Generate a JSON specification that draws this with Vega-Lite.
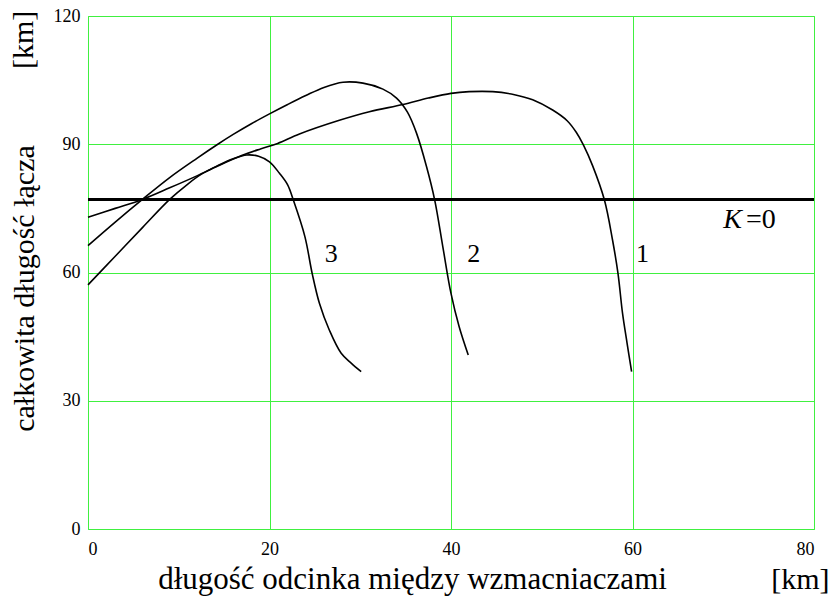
{
  "$schema": "https://vega.github.io/schema/vega-lite/v6.json",
  "width": 726,
  "height": 513,
  "autosize": {"type": "none"},
  "padding": {"left": 88, "top": 16, "right": 15, "bottom": 70},
  "background": "white",
  "config": {
    "view": {"stroke": "#40f040", "strokeWidth": 1},
    "font": "Liberation Serif",
    "text": {"font": "Liberation Serif"},
    "axis": {
      "grid": true,
      "gridColor": "#40f040",
      "gridOpacity": 1,
      "gridWidth": 1,
      "domain": false,
      "ticks": false,
      "labelFont": "Liberation Serif",
      "labelFontSize": 18,
      "labelColor": "black",
      "titleFont": "Liberation Serif",
      "titleFontWeight": "normal",
      "titleColor": "black"
    }
  },
  "datasets": {
    "curves": [
      {"curve": "1", "x": 0, "y": 72.9}, {"curve": "1", "x": 3, "y": 75.0}, {"curve": "1", "x": 6, "y": 77.1},
      {"curve": "1", "x": 9, "y": 79.8}, {"curve": "1", "x": 12, "y": 82.6}, {"curve": "1", "x": 14.3, "y": 84.9},
      {"curve": "1", "x": 17, "y": 87.4}, {"curve": "1", "x": 19, "y": 88.9}, {"curve": "1", "x": 20.9, "y": 90.2},
      {"curve": "1", "x": 23.3, "y": 92.4}, {"curve": "1", "x": 27.7, "y": 95.6},
      {"curve": "1", "x": 31, "y": 97.6}, {"curve": "1", "x": 34.7, "y": 99.3}, {"curve": "1", "x": 37.5, "y": 100.8},
      {"curve": "1", "x": 40, "y": 101.9}, {"curve": "1", "x": 42, "y": 102.3}, {"curve": "1", "x": 44.6, "y": 102.3},
      {"curve": "1", "x": 47, "y": 101.6}, {"curve": "1", "x": 49, "y": 100.4}, {"curve": "1", "x": 51.2, "y": 98},
      {"curve": "1", "x": 52.8, "y": 95.5}, {"curve": "1", "x": 53.8, "y": 92.8}, {"curve": "1", "x": 54.6, "y": 89.8},
      {"curve": "1", "x": 55.6, "y": 85.0}, {"curve": "1", "x": 56.9, "y": 77}, {"curve": "1", "x": 57.8, "y": 67.6},
      {"curve": "1", "x": 58.4, "y": 59.8}, {"curve": "1", "x": 58.9, "y": 50.5}, {"curve": "1", "x": 59.4, "y": 43.5},
      {"curve": "1", "x": 59.9, "y": 36.8},
      {"curve": "2", "x": 0, "y": 66.3}, {"curve": "2", "x": 3, "y": 71.8}, {"curve": "2", "x": 6, "y": 77.1},
      {"curve": "2", "x": 9, "y": 82.2}, {"curve": "2", "x": 12, "y": 86.7}, {"curve": "2", "x": 14.3, "y": 90.0},
      {"curve": "2", "x": 16, "y": 92.3}, {"curve": "2", "x": 18, "y": 94.8}, {"curve": "2", "x": 20, "y": 97.1},
      {"curve": "2", "x": 22, "y": 99.3}, {"curve": "2", "x": 24, "y": 101.4}, {"curve": "2", "x": 26, "y": 103.3},
      {"curve": "2", "x": 28.1, "y": 104.5},
      {"curve": "2", "x": 30.3, "y": 104.3}, {"curve": "2", "x": 32.5, "y": 102.9}, {"curve": "2", "x": 34.0, "y": 100.8},
      {"curve": "2", "x": 35.2, "y": 97.5},
      {"curve": "2", "x": 36.2, "y": 92.6}, {"curve": "2", "x": 37.3, "y": 84.8}, {"curve": "2", "x": 38.2, "y": 77},
      {"curve": "2", "x": 39.1, "y": 66}, {"curve": "2", "x": 40, "y": 55.1}, {"curve": "2", "x": 40.9, "y": 47.3},
      {"curve": "2", "x": 41.9, "y": 40.7},
      {"curve": "3", "x": 0, "y": 57.1}, {"curve": "3", "x": 3, "y": 63.8}, {"curve": "3", "x": 6, "y": 70.5},
      {"curve": "3", "x": 9, "y": 77.1}, {"curve": "3", "x": 11, "y": 80.7}, {"curve": "3", "x": 12.5, "y": 83.0},
      {"curve": "3", "x": 14.3, "y": 85.0}, {"curve": "3", "x": 16, "y": 86.6}, {"curve": "3", "x": 17.5, "y": 87.5},
      {"curve": "3", "x": 18.8, "y": 87.2}, {"curve": "3", "x": 20, "y": 85.9},
      {"curve": "3", "x": 21.1, "y": 83.2}, {"curve": "3", "x": 22, "y": 80.5}, {"curve": "3", "x": 22.6, "y": 77.1},
      {"curve": "3", "x": 23.9, "y": 68.4}, {"curve": "3", "x": 24.7, "y": 59.8}, {"curve": "3", "x": 25.5, "y": 52.8},
      {"curve": "3", "x": 26.6, "y": 46.5}, {"curve": "3", "x": 27.9, "y": 41.1}, {"curve": "3", "x": 29, "y": 38.8},
      {"curve": "3", "x": 30.1, "y": 36.8}
    ],
    "kline": [{"k": 77.1}],
    "numlabels": [
      {"x": 26.8, "y": 64.4, "text": "3"},
      {"x": 42.5, "y": 64.4, "text": "2"},
      {"x": 61.1, "y": 64.4, "text": "1"}
    ],
    "klabel": [{"x": 70.0, "y": 72.2, "text": "K"}],
    "kvalue": [{"x": 72.5, "y": 72.2, "text": "=0"}],
    "units": [
      {"x": 78.5, "y": -14.0, "text": "[km]", "angle": 0},
      {"x": -6.1, "y": 114.4, "text": "[km]", "angle": 270}
    ]
  },
  "layer": [
    {
      "data": {"name": "curves"},
      "mark": {"type": "line", "color": "black", "strokeWidth": 1.6, "interpolate": "catmull-rom"},
      "encoding": {
        "x": {
          "field": "x", "type": "quantitative",
          "scale": {"domain": [0, 80], "nice": false},
          "axis": {
            "values": [0, 20, 40, 60, 80],
            "labelFont": "Liberation Serif",
            "labelPadding": 11,
            "labelDx": 4,
            "title": "długość odcinka między wzmacniaczami",
            "titleFont": "Liberation Serif",
            "titleFontSize": 31,
            "titleX": 324,
            "titleY": 59,
            "titleAlign": "center",
            "titleBaseline": "alphabetic"
          }
        },
        "y": {
          "field": "y", "type": "quantitative",
          "scale": {"domain": [0, 120], "nice": false},
          "axis": {
            "values": [0, 30, 60, 90, 120],
            "labelFont": "Liberation Serif",
            "labelPadding": 8,
            "labelDy": 4,
            "title": "całkowita długość łącza",
            "titleFont": "Liberation Serif",
            "titleFontSize": 30,
            "titleX": -55,
            "titleY": 272,
            "titleAngle": 270,
            "titleAlign": "center",
            "titleBaseline": "alphabetic"
          }
        },
        "detail": {"field": "curve"}
      }
    },
    {
      "data": {"name": "kline"},
      "mark": {"type": "rule", "color": "black", "strokeWidth": 3},
      "encoding": {"y": {"field": "k", "type": "quantitative"}}
    },
    {
      "data": {"name": "numlabels"},
      "mark": {"type": "text", "fontSize": 26, "color": "black", "baseline": "middle", "align": "center", "font": "Liberation Serif"},
      "encoding": {
        "x": {"field": "x", "type": "quantitative"},
        "y": {"field": "y", "type": "quantitative"},
        "text": {"field": "text"}
      }
    },
    {
      "data": {"name": "klabel"},
      "mark": {"type": "text", "fontSize": 28, "color": "black", "baseline": "middle", "align": "left", "fontStyle": "italic", "font": "Liberation Serif"},
      "encoding": {
        "x": {"field": "x", "type": "quantitative"},
        "y": {"field": "y", "type": "quantitative"},
        "text": {"field": "text"}
      }
    },
    {
      "data": {"name": "kvalue"},
      "mark": {"type": "text", "fontSize": 28, "color": "black", "baseline": "middle", "align": "left", "font": "Liberation Serif"},
      "encoding": {
        "x": {"field": "x", "type": "quantitative"},
        "y": {"field": "y", "type": "quantitative"},
        "text": {"field": "text"}
      }
    },
    {
      "data": {"name": "units"},
      "mark": {"type": "text", "fontSize": 30, "color": "black", "baseline": "alphabetic", "align": "center", "font": "Liberation Serif"},
      "encoding": {
        "x": {"field": "x", "type": "quantitative"},
        "y": {"field": "y", "type": "quantitative"},
        "text": {"field": "text"},
        "angle": {"field": "angle", "type": "quantitative", "scale": null}
      }
    }
  ]
}
